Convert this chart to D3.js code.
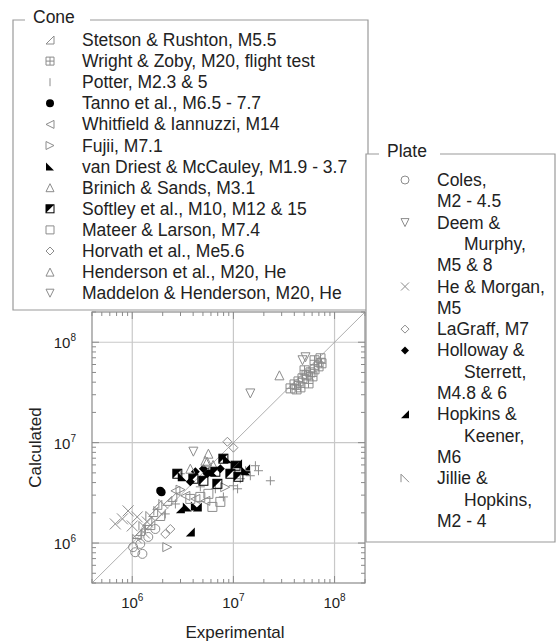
<!DOCTYPE html>
<html>
<head>
<meta charset="utf-8">
<script src="https://cdn.jsdelivr.net/npm/d3@7"></script>
<style>
  body { margin: 0; background: #fff; }
  svg { display: block; font-family: 'Liberation Sans', Arial, sans-serif; }
</style>
</head>
<body>
<div id="chart"></div>
<script>
// legend labels
const coneNames = [
  'Stetson & Rushton, M5.5',
  'Wright & Zoby, M20, flight test',
  'Potter, M2.3 & 5',
  'Tanno et al., M6.5 - 7.7',
  'Whitfield & Iannuzzi, M14',
  'Fujii, M7.1',
  'van Driest & McCauley, M1.9 - 3.7',
  'Brinich & Sands, M3.1',
  'Softley et al., M10, M12 & 15',
  'Mateer & Larson, M7.4',
  'Horvath et al., Me5.6',
  'Henderson et al., M20, He',
  'Maddelon & Henderson, M20, He'
]
const plateNames = [
  ['Coles,', 'M2 - 4.5'],
  ['Deem &', 'Murphy,', 'M5 & 8'],
  ['He & Morgan,', 'M5'],
  ['LaGraff, M7'],
  ['Holloway &', 'Sterrett,', 'M4.8 & 6'],
  ['Hopkins &', 'Keener,', 'M6'],
  ['Jillie &', 'Hopkins,', 'M2 - 4']
]

// [experimental, calculated]
const stetson = [[1.20e6, 1.32e6], [1.41e6, 1.66e6], [1.61e6, 2.04e6], [1.89e6, 1.86e6], [2.22e6, 2.63e6],
  [2.49e6, 2.88e6], [1.12e6, 1.23e6], [1.51e6, 1.51e6], [1.77e6, 2.40e6]]
const wright = [[36.7e6, 34.7e6], [40.2e6, 38.0e6], [44.0e6, 40.7e6], [48.2e6, 43.7e6], [52.8e6, 46.8e6],
  [57.8e6, 50.1e6], [63.4e6, 53.7e6], [69.5e6, 57.5e6], [74.3e6, 61.7e6], [72.6e6, 69.2e6], [63.4e6, 66.1e6],
  [55.3e6, 38.9e6], [46.0e6, 35.5e6], [42.1e6, 33.9e6], [60.5e6, 45.7e6], [50.5e6, 52.5e6]]
const potter = [[16.5e6, 5.89e6], [17.7e6, 5.25e6], [23.2e6, 4.17e6], [14.7e6, 4.68e6], [10.0e6, 3.72e6],
  [11.0e6, 3.47e6], [7.96e6, 2.88e6], [13.2e6, 5.25e6], [2.99e6, 4.90e6], [4.71e6, 3.63e6], [6.63e6, 3.47e6],
  [2.12e6, 1.95e6], [1.35e6, 1.38e6], [2.67e6, 2.45e6], [11.7e6, 4.37e6]]
const tanno = [[1.89e6, 3.31e6], [1.95e6, 3.20e6]]
const whitfield = [[4.21e6, 2.75e6], [3.35e6, 2.95e6], [5.28e6, 2.63e6], [2.67e6, 3.31e6]]
const fujii = [[2.22e6, 0.91e6], [3.00e6, 3.40e6], [8.30e6, 3.60e6]]
const vanDriest = [[3.50e6, 2.29e6], [4.21e6, 2.34e6], [3.12e6, 4.57e6], [6.20e6, 5.13e6], [8.72e6, 6.92e6],
  [13.2e6, 5.25e6]]
const brinich = [[5.66e6, 7.76e6], [5.28e6, 6.61e6], [3.75e6, 5.50e6], [6.30e6, 6.00e6]]
const softley = [[4.02e6, 4.37e6], [5.05e6, 4.17e6], [6.94e6, 3.89e6], [9.34e6, 4.90e6], [10.5e6, 5.89e6],
  [7.96e6, 6.92e6], [11.2e6, 4.57e6], [2.79e6, 4.90e6], [6.63e6, 5.13e6]]
const mateer = [[5.66e6, 3.09e6], [6.20e6, 2.29e6], [4.71e6, 2.88e6], [7.43e6, 2.57e6], [3.75e6, 2.75e6]]
const horvath = [[8.72e6, 10.2e6], [10.0e6, 8.91e6], [2.38e6, 1.38e6]]
const henderson = [[28.5e6, 46.8e6], [5.50e6, 6.46e6]]
const maddelon = [[48.2e6, 66.1e6], [51.6e6, 70.8e6], [14.7e6, 30.9e6]]

const coles = [[1.07e6, 0.81e6], [1.26e6, 0.78e6], [1.02e6, 0.91e6], [1.20e6, 0.98e6], [1.44e6, 1.15e6],
  [1.69e6, 1.38e6]]
const deem = [[4.02e6, 8.13e6]]
const heMorgan = [[0.68e6, 1.55e6], [0.91e6, 2.09e6], [1.12e6, 1.82e6], [1.41e6, 1.62e6], [0.80e6, 1.74e6],
  [1.00e6, 1.48e6]]
const lagraff = [[2.12e6, 1.23e6]]
const holloway = [[4.21e6, 5.13e6], [5.50e6, 4.90e6], [7.43e6, 5.50e6], [3.75e6, 4.07e6], [5.05e6, 5.50e6]]
const hopkins = [[3.75e6, 1.29e6], [2.99e6, 2.19e6], [4.40e6, 2.29e6], [13.2e6, 5.50e6], [11.0e6, 6.17e6]]
const jillie = [[1.29e6, 1.48e6], [1.51e6, 1.86e6], [1.81e6, 2.09e6], [2.03e6, 2.45e6], [1.12e6, 1.10e6],
  [1.35e6, 1.23e6]]

const domain = [4e5, 2e8]
const majorTicks = [1e6, 1e7, 1e8]
const tickExponents = ['6', '7', '8']

const GRAY = '#8c8c8c'

const coneSeries = [
  { data: stetson, shape: 'rtri' },
  { data: wright, shape: 'boxplus' },
  { data: potter, shape: 'plus', legendShape: 'vbar' },
  { data: tanno, shape: 'dot' },
  { data: whitfield, shape: 'ltri' },
  { data: fujii, shape: 'rtri2' },
  { data: vanDriest, shape: 'corner' },
  { data: brinich, shape: 'utri' },
  { data: softley, shape: 'halfsq' },
  { data: mateer, shape: 'square' },
  { data: horvath, shape: 'diamond' },
  { data: henderson, shape: 'utri' },
  { data: maddelon, shape: 'dtri' }
]
const plateSeries = [
  { data: coles, shape: 'circle' },
  { data: deem, shape: 'dtri' },
  { data: heMorgan, shape: 'cross' },
  { data: lagraff, shape: 'diamond' },
  { data: holloway, shape: 'diamondFill' },
  { data: hopkins, shape: 'corner2' },
  { data: jillie, shape: 'jillie' }
]

// marker drawing, s = half size
function drawShape(g, shape, s) {
  const stroke = (d) => g.append('path').attr('d', d).attr('fill', 'none').attr('stroke', GRAY).attr('stroke-width', 1)
  const fill = (d, c) => g.append('path').attr('d', d).attr('fill', c || '#000')
  switch (shape) {
    case 'rtri': stroke(`M${-s},${s}L${s},${-s}L${s},${s}Z`); break
    case 'boxplus': stroke(`M${-s},${-s}h${2 * s}v${2 * s}h${-2 * s}ZM0,${-s}V${s}M${-s},0H${s}`); break
    case 'plus': stroke(`M0,${-s}V${s}M${-s},0H${s}`); break
    case 'vbar': stroke(`M0,${-s}V${s}`); break
    case 'dot': g.append('circle').attr('r', s).attr('fill', '#000'); break
    case 'ltri': stroke(`M${-s},0L${s},${-s}L${s},${s}Z`); break
    case 'rtri2': stroke(`M${s},0L${-s},${-s}L${-s},${s}Z`); break
    case 'corner': fill(`M${-s},${-s}L${-s},${s}L${s},${s}Z`); break
    case 'utri': stroke(`M0,${-s}L${s},${s}L${-s},${s}Z`); break
    case 'dtri': stroke(`M0,${s}L${s},${-s}L${-s},${-s}Z`); break
    case 'halfsq':
      fill(`M${-s},${-s}H${s}L${-s},${s}Z`)
      g.append('rect').attr('x', -s).attr('y', -s).attr('width', 2 * s).attr('height', 2 * s)
        .attr('fill', 'none').attr('stroke', '#000')
      break
    case 'square': stroke(`M${-s},${-s}h${2 * s}v${2 * s}h${-2 * s}Z`); break
    case 'diamond': stroke(`M0,${-s}L${s},0L0,${s}L${-s},0Z`); break
    case 'diamondFill': fill(`M0,${-s}L${s},0L0,${s}L${-s},0Z`); break
    case 'circle': g.append('circle').attr('r', s).attr('fill', 'none').attr('stroke', GRAY); break
    case 'cross': stroke(`M${-s},${-s}L${s},${s}M${-s},${s}L${s},${-s}`); break
    case 'corner2': fill(`M${s},${-s}L${s},${s}L${-s},${s}Z`); break
    case 'jillie': stroke(`M${-s},${s}L${-s},${-s}L${s},${s}`); break
  }
}

const width = 557, height = 643
const margin = { top: 312, right: 192, bottom: 60, left: 92 }
const boundedW = width - margin.left - margin.right
const boundedH = height - margin.top - margin.bottom

const svg = d3.select('#chart').append('svg')
  .attr('width', width)
  .attr('height', height)

const x = d3.scaleLog().domain(domain).range([margin.left, margin.left + boundedW])
const y = d3.scaleLog().domain(domain).range([margin.top + boundedH, margin.top])

const x0 = x.range()[0], x1 = x.range()[1]
const y0 = y.range()[0], y1 = y.range()[1]

// grid
const grid = svg.append('g').attr('stroke', '#c8c8c8').attr('stroke-width', 1.2)
majorTicks.forEach(v => {
  grid.append('line').attr('x1', x(v)).attr('x2', x(v)).attr('y1', y0).attr('y2', y1)
  grid.append('line').attr('y1', y(v)).attr('y2', y(v)).attr('x1', x0).attr('x2', x1)
})

// diagonal
svg.append('line')
  .attr('x1', x(domain[0])).attr('y1', y(domain[0]))
  .attr('x2', x(domain[1])).attr('y2', y(domain[1]))
  .attr('stroke', '#9a9a9a').attr('stroke-width', 0.8)

// inward ticks on all four sides
const ticks = svg.append('g').attr('stroke', '#8a8a8a').attr('stroke-width', 1)
x.ticks().forEach(v => {
  const len = majorTicks.includes(v) ? 7 : 4
  ticks.append('line').attr('x1', x(v)).attr('x2', x(v)).attr('y1', y0).attr('y2', y0 - len)
  ticks.append('line').attr('x1', x(v)).attr('x2', x(v)).attr('y1', y1).attr('y2', y1 + len)
})
y.ticks().forEach(v => {
  const len = majorTicks.includes(v) ? 7 : 4
  ticks.append('line').attr('y1', y(v)).attr('y2', y(v)).attr('x1', x0).attr('x2', x0 + len)
  ticks.append('line').attr('y1', y(v)).attr('y2', y(v)).attr('x1', x1).attr('x2', x1 - len)
})

// frame
svg.append('rect')
  .attr('x', x0).attr('y', y1).attr('width', x1 - x0).attr('height', y0 - y1)
  .attr('fill', 'none').attr('stroke', '#8a8a8a').attr('stroke-width', 1.2)

// tick labels
majorTicks.forEach((v, i) => {
  const tx = svg.append('text').attr('x', x(v)).attr('y', y0 + 25)
    .attr('text-anchor', 'middle').attr('font-size', 15).attr('fill', '#222')
  tx.append('tspan').text('10')
  tx.append('tspan').attr('dy', -7).attr('font-size', 10).text(tickExponents[i])

  const ty = svg.append('text').attr('x', x0 - 16).attr('y', y(v) + 6)
    .attr('text-anchor', 'end').attr('font-size', 15).attr('fill', '#222')
  ty.append('tspan').text('10')
  ty.append('tspan').attr('dy', -7).attr('font-size', 10).text(tickExponents[i])
})

// axis titles
svg.append('text').attr('x', 235).attr('y', 638)
  .attr('text-anchor', 'middle').attr('font-size', 17).attr('fill', '#222').text('Experimental')
svg.append('text').attr('transform', `translate(41, ${(y0 + y1) / 2}) rotate(-90)`)
  .attr('text-anchor', 'middle').attr('font-size', 17).attr('fill', '#222').text('Calculated')

// data
const marks = svg.append('g')
function plotSeries(series) {
  series.forEach(sr => {
    const s = sr.shape === 'cross' ? 5.5 : (sr.shape === 'dot' ? 4 : 4.5)
    sr.data.forEach(d => {
      const g = marks.append('g').attr('transform', `translate(${x(d[0])},${y(d[1])})`)
      drawShape(g, sr.shape, s)
    })
  })
}
plotSeries(plateSeries)
plotSeries(coneSeries)

// legend frames
function legendFrame(x0, y0, x1, y1, title, gapFrom, gapTo) {
  const g = svg.append('g')
  g.append('rect').attr('x', x0).attr('y', y0).attr('width', x1 - x0).attr('height', y1 - y0)
    .attr('fill', '#fff')
  g.append('path')
    .attr('d', `M${gapFrom},${y0}H${x0}V${y1}H${x1}V${y0}H${gapTo}`)
    .attr('fill', 'none').attr('stroke', '#9a9a9a').attr('stroke-width', 1.2)
  g.append('text').attr('x', gapFrom + 8).attr('y', y0 + 3)
    .attr('font-size', 17.5).attr('fill', '#222').text(title)
  return g
}

// cone legend
const coneG = legendFrame(13, 20, 368, 310, 'Cone', 25, 90)
coneNames.forEach((name, i) => {
  const cy = 40 + i * 21.1
  const g = coneG.append('g').attr('transform', `translate(50,${cy})`)
  drawShape(g, coneSeries[i].legendShape || coneSeries[i].shape, 4)
  coneG.append('text').attr('x', 82).attr('y', cy + 6)
    .attr('font-size', 17.5).attr('fill', '#222').text(name)
})

// plate legend
const plateG = legendFrame(366, 154, 555, 542, 'Plate', 379, 440)
let line = 0
plateNames.forEach((lines, i) => {
  const cy = 180 + line * 21.3
  const g = plateG.append('g').attr('transform', `translate(405,${cy})`)
  drawShape(g, plateSeries[i].shape, 4)
  lines.forEach((t, j) => {
    const indent = lines.length === 3 && j === 1 ? 27 : 0
    plateG.append('text').attr('x', 437 + indent).attr('y', 180 + (line + j) * 21.3 + 6)
      .attr('font-size', 17.5).attr('fill', '#222').text(t)
  })
  line += lines.length
})
</script>
</body>
</html>
